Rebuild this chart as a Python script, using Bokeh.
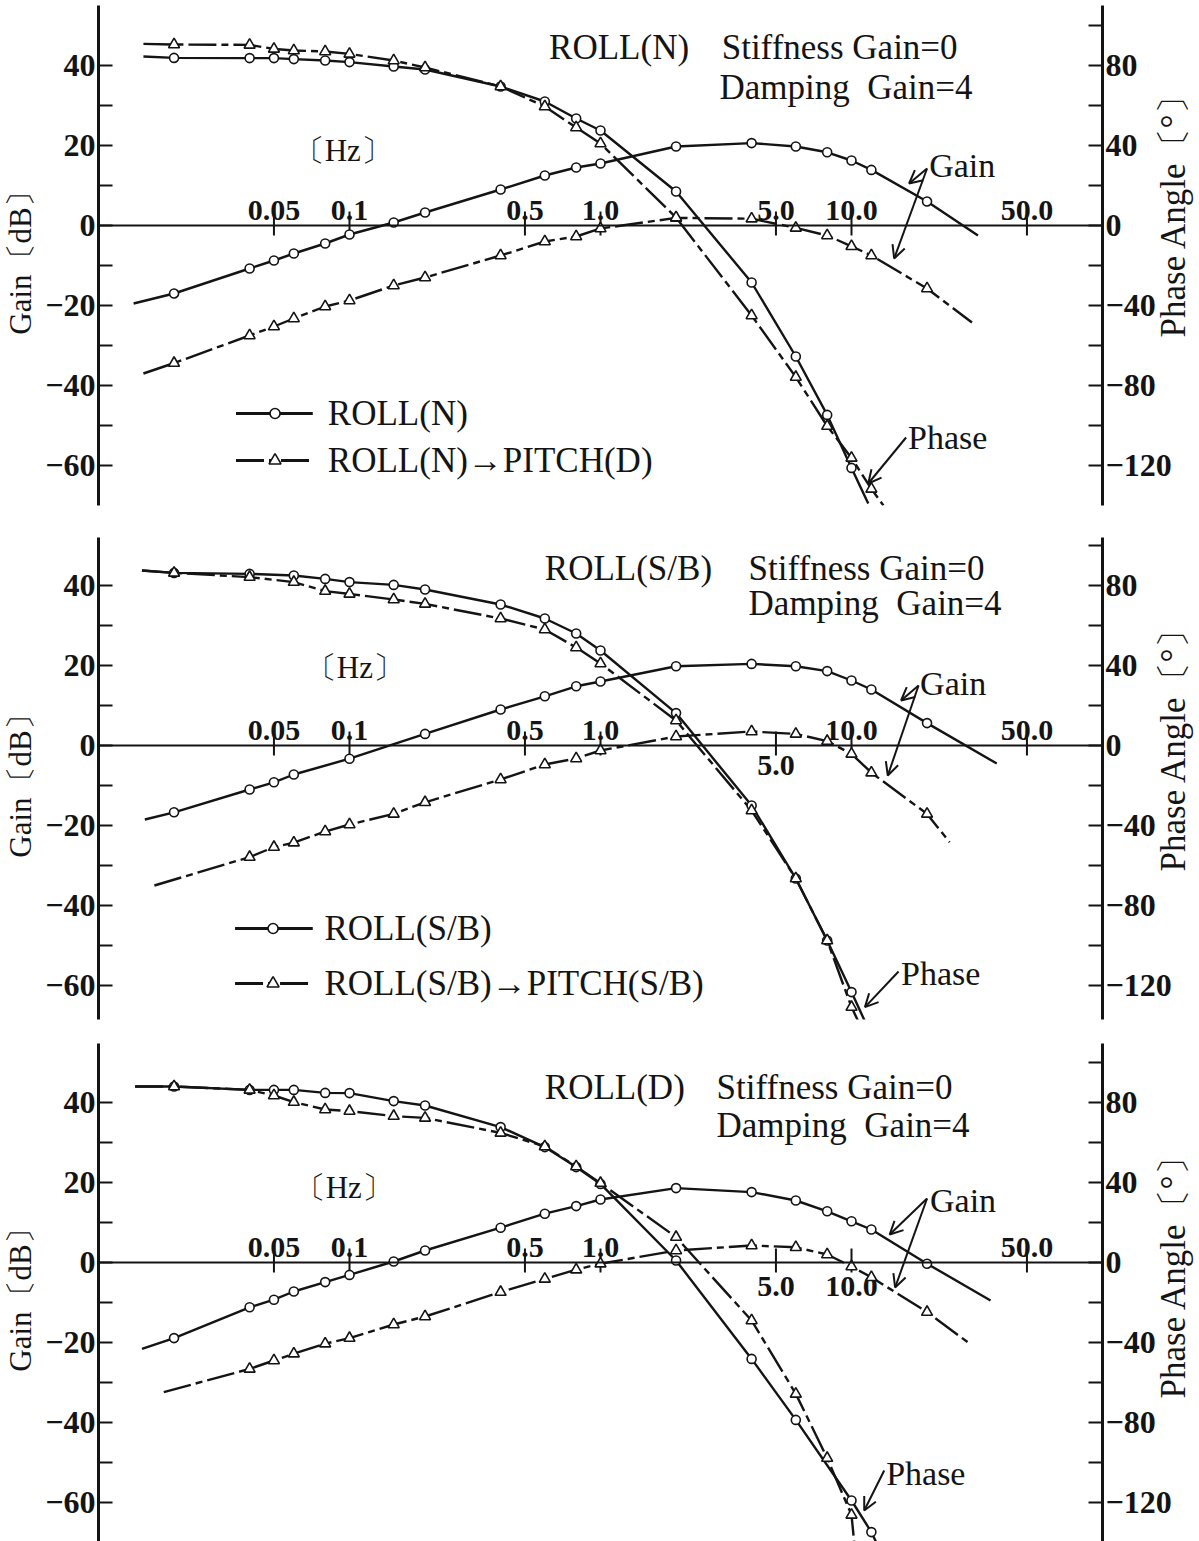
from bokeh.core.properties import value
from bokeh.embed import file_html
from bokeh.layouts import column, row
from bokeh.models import (Arrow, ColumnDataSource, CustomJSTickFormatter,
                          FixedTicker, LinearAxis, OpenHead, Range1d, Span)
from bokeh.plotting import figure
from bokeh.resources import INLINE
import math

# ---------------------------------------------------------------------------
# Axes
# ---------------------------------------------------------------------------
FREQ_TICKS = [0.05, 0.1, 0.5, 1.0, 5.0, 10.0, 50.0]
FREQ_TICK_LABELS = ["0.05", "0.1", "0.5", "1.0", "5.0", "10.0", "50.0"]
GAIN_TICKS = [-60, -40, -20, 0, 20, 40]
GAIN_MINOR_TICKS = [-50, -30, -10, 10, 30]
PHASE_TICKS = [-120, -80, -40, 0, 40, 80]
PHASE_MINOR_TICKS = [-100, -60, -20, 20, 60, 100]

# ---------------------------------------------------------------------------
# Frequency responses.  The first and last entry of every list is where the
# traced curve starts / stops; the entries in between carry a symbol.
# ---------------------------------------------------------------------------

# ROLL(N)  /  ROLL(N) -> PITCH(D)
n_gain_f = [0.0138, 0.02, 0.04, 0.05, 0.06, 0.08, 0.1, 0.15, 0.2, 0.4, 0.6, 0.8,
            1.0, 2.0, 4.0, 6.0, 8.0, 10.0, 12.0, 20.0, 31.9]
n_gain_db = [-19.5, -17.0, -10.75, -8.75, -7.0, -4.5, -2.25, 0.75, 3.25, 9.0, 12.5,
             14.5, 15.5, 19.75, 20.6, 19.75, 18.3, 16.25, 13.9, 6.0, -2.5]
n_phase_f = [0.0151, 0.02, 0.04, 0.05, 0.06, 0.08, 0.1, 0.15, 0.2, 0.4, 0.6, 0.8,
             1.0, 2.0, 4.0, 6.0, 8.0, 10.0, 11.66]
n_phase_deg = [84.5, 83.8, 83.7, 83.7, 83.2, 82.5, 81.7, 79.5, 78.0, 69.5, 62.0,
               53.5, 47.5, 17.0, -28.5, -65.5, -94.7, -121.2, -139.0]
np_gain_f = [0.0151, 0.02, 0.04, 0.05, 0.06, 0.08, 0.1, 0.15, 0.2, 0.4, 0.6, 0.8,
             1.0, 2.0, 4.0, 6.0, 8.0, 10.0, 12.0, 20.0, 30.2]
np_gain_db = [-37.0, -34.4, -27.5, -25.25, -23.25, -20.25, -18.75, -15.0, -13.0,
              -7.5, -4.0, -2.75, -0.75, 1.9, 1.7, -0.6, -2.5, -5.2, -7.5, -15.75,
              -24.25]
np_phase_f = [0.0151, 0.02, 0.04, 0.05, 0.06, 0.08, 0.1, 0.15, 0.2, 0.4, 0.6, 0.8,
              1.0, 2.0, 4.0, 6.0, 8.0, 10.0, 12.0, 13.4]
np_phase_deg = [90.8, 90.5, 90.3, 88.3, 87.5, 87.0, 85.8, 82.5, 79.0, 69.5, 59.5,
                49.0, 41.0, 4.0, -45.0, -75.8, -100.3, -116.2, -131.7, -140.0]

# ROLL(S/B)  /  ROLL(S/B) -> PITCH(S/B)
s_gain_f = [0.0153, 0.02, 0.04, 0.05, 0.06, 0.1, 0.2, 0.4, 0.6, 0.8, 1.0, 2.0,
            4.0, 6.0, 8.0, 10.0, 12.0, 20.0, 37.9]
s_gain_db = [-18.5, -16.7, -11.0, -9.2, -7.25, -3.3, 2.9, 9.0, 12.3, 14.8, 16.0,
             19.8, 20.4, 19.8, 18.6, 16.25, 14.0, 5.6, -4.5]
s_phase_f = [0.0149, 0.02, 0.04, 0.06, 0.08, 0.1, 0.15, 0.2, 0.4, 0.6, 0.8, 1.0,
             2.0, 4.0, 6.0, 8.0, 10.0, 11.27]
s_phase_deg = [87.5, 86.3, 85.8, 85.0, 83.3, 81.7, 80.3, 78.0, 70.5, 63.5, 56.0,
               47.5, 16.2, -30.0, -66.5, -97.5, -123.3, -137.5]
sp_gain_f = [0.0167, 0.04, 0.05, 0.06, 0.08, 0.1, 0.15, 0.2, 0.4, 0.6, 0.8, 1.0,
             2.0, 4.0, 6.0, 8.0, 10.0, 12.0, 20.0, 24.6]
sp_gain_db = [-35.0, -27.9, -25.4, -24.3, -21.5, -19.75, -17.1, -14.2, -8.5, -4.75,
              -3.25, -1.25, 2.25, 3.5, 2.9, 1.1, -2.1, -6.8, -17.1, -24.2]
sp_phase_f = [0.0149, 0.02, 0.04, 0.06, 0.08, 0.1, 0.15, 0.2, 0.4, 0.6, 0.8, 1.0,
              2.0, 4.0, 6.0, 8.0, 10.0, 10.6]
sp_phase_deg = [87.5, 86.3, 84.2, 81.7, 77.2, 75.8, 73.0, 70.8, 63.5, 58.0, 49.0,
                41.0, 12.5, -32.5, -66.5, -97.5, -130.8, -137.5]

# ROLL(D)  /  ROLL(D) -> PITCH(D)
d_gain_f = [0.0149, 0.02, 0.04, 0.05, 0.06, 0.08, 0.1, 0.15, 0.2, 0.4, 0.6, 0.8,
            1.0, 2.0, 4.0, 6.0, 8.0, 10.0, 12.0, 20.0, 35.8]
d_gain_db = [-21.6, -18.9, -11.2, -9.3, -7.25, -4.9, -3.1, 0.25, 3.0, 8.7, 12.2,
             14.1, 15.75, 18.6, 17.6, 15.5, 12.8, 10.3, 8.25, -0.3, -9.5]
d_phase_f = [0.0140, 0.02, 0.04, 0.05, 0.06, 0.08, 0.1, 0.15, 0.2, 0.4, 0.6, 0.8,
             1.0, 2.0, 4.0, 6.0, 10.0, 12.0, 12.54]
d_phase_deg = [88.0, 88.0, 86.3, 86.3, 86.3, 84.8, 84.7, 80.7, 78.5, 67.7, 57.7,
               47.7, 39.3, 1.0, -48.2, -78.7, -119.0, -134.8, -139.9]
dp_gain_f = [0.0182, 0.04, 0.05, 0.06, 0.08, 0.1, 0.15, 0.2, 0.4, 0.6, 0.8, 1.0,
             2.0, 4.0, 6.0, 8.0, 10.0, 12.0, 20.0, 29.0]
dp_gain_db = [-32.4, -26.6, -24.5, -22.8, -20.3, -18.9, -15.5, -13.5, -7.4, -4.1,
              -1.8, -0.3, 3.0, 4.25, 3.8, 2.0, -1.0, -3.7, -12.4, -19.9]
dp_phase_f = [0.0140, 0.02, 0.04, 0.05, 0.06, 0.08, 0.1, 0.15, 0.2, 0.4, 0.6, 0.8,
              1.0, 2.0, 4.0, 6.0, 8.0, 10.0, 10.25]
dp_phase_deg = [88.0, 88.0, 86.3, 83.5, 80.2, 76.5, 75.7, 73.2, 72.3, 64.8, 58.0,
                48.0, 39.7, 12.7, -29.0, -65.7, -97.8, -126.2, -139.9]

# ---------------------------------------------------------------------------
# Styling
# ---------------------------------------------------------------------------
SERIF = "Liberation Serif"
INK = "#141414"
SOLID = "solid"
CHAIN = "28 5 7 5"
CURVE_W = 2.4
FULL_W = 1199
STRIP_W = 44          # narrow strip overlaying the right margin (phase title)


def minus_formatter():
    return CustomJSTickFormatter(
        code="return (tick < 0 ? '\u2212' : '') + Math.abs(tick);")


def style_axis(ax):
    ax.axis_line_width = 3
    ax.axis_line_color = INK
    ax.major_tick_in = 14
    ax.major_tick_out = 0
    ax.minor_tick_in = 14
    ax.minor_tick_out = 0
    ax.major_tick_line_width = 2
    ax.minor_tick_line_width = 2
    ax.major_tick_line_color = INK
    ax.minor_tick_line_color = INK
    ax.major_label_text_font = SERIF
    ax.major_label_text_font_size = "32px"
    ax.major_label_text_font_style = "bold"
    ax.major_label_text_color = INK
    ax.major_label_standoff = 3
    ax.axis_label_text_font = SERIF
    ax.axis_label_text_font_size = "31px"
    ax.axis_label_text_font_style = "normal"
    ax.axis_label_text_color = INK
    ax.axis_label_standoff = 4


def put_text(p, x, y, text, size="35px", align="left", baseline="middle"):
    p.text(x=[x], y=[y], text=[text], text_font=value(SERIF),
           text_font_size=size, text_color=INK, text_align=align,
           text_baseline=baseline)


def arrow(p, x0, y0, x1, y1):
    p.add_layout(Arrow(end=OpenHead(size=13, line_width=2, line_color=INK),
                       x_start=x0, y_start=y0, x_end=x1, y_end=y1,
                       line_width=2, line_color=INK))


def build_panel(spec):
    lo, hi = spec["gain_range"]
    p = figure(width=FULL_W, height=spec["height"], x_axis_type="log",
               x_range=Range1d(0.01, 100.0), y_range=Range1d(lo, hi),
               x_axis_location=None, y_axis_location=None,
               min_border_left=95, min_border_right=97,
               min_border_top=spec["top"], min_border_bottom=spec["bottom"],
               outline_line_color=None, toolbar_location=None,
               background_fill_color="white", border_fill_color="white",
               output_backend="svg")
    p.xgrid.visible = False
    p.ygrid.visible = False
    p.extra_y_ranges = {"phase": Range1d(2 * lo, 2 * hi)}

    gain_axis = LinearAxis(
        ticker=FixedTicker(ticks=GAIN_TICKS, minor_ticks=GAIN_MINOR_TICKS),
        formatter=minus_formatter(), axis_label="Gain〔dB〕")
    style_axis(gain_axis)
    p.add_layout(gain_axis, "left")

    phase_axis = LinearAxis(
        y_range_name="phase",
        ticker=FixedTicker(ticks=PHASE_TICKS, minor_ticks=PHASE_MINOR_TICKS),
        formatter=minus_formatter())
    style_axis(phase_axis)
    p.add_layout(phase_axis, "right")

    # 0 dB line carrying the frequency scale
    p.add_layout(Span(location=0, dimension="width", line_width=2,
                      line_color=INK))
    n = len(FREQ_TICKS)
    p.segment(x0=FREQ_TICKS, y0=[3.5] * n, x1=FREQ_TICKS, y1=[-2.5] * n,
              line_width=2, line_color=INK)
    up = [(f, t) for f, t in zip(FREQ_TICKS, FREQ_TICK_LABELS)
          if t not in spec["below"]]
    dn = [(f, t) for f, t in zip(FREQ_TICKS, FREQ_TICK_LABELS)
          if t in spec["below"]]
    p.text(x=[f for f, _ in up], y=[3.8] * len(up), text=[t for _, t in up],
           text_font=value(SERIF), text_font_size="30px", text_color=INK,
           text_font_style="bold", text_align="center",
           text_baseline="alphabetic")
    if dn:
        p.text(x=[f for f, _ in dn], y=[spec["below_y"]] * len(dn),
               text=[t for _, t in dn], text_font=value(SERIF),
               text_font_size="30px", text_color=INK, text_font_style="bold",
               text_align="center", text_baseline="top")

    # curves: lines first, symbols on top
    marks = []
    for f, v, on_phase, dash, marker in spec["curves"]:
        rng = "phase" if on_phase else "default"
        src = ColumnDataSource(dict(f=f, v=v))
        p.line("f", "v", source=src, y_range_name=rng, line_width=CURVE_W,
               line_color=INK, line_dash=dash, line_join="round")
        marks.append((f[1:-1], v[1:-1], rng, marker))
    for f, v, rng, marker in marks:
        p.scatter(x=f, y=v, y_range_name=rng, marker=marker,
                  size=11 if marker == "triangle" else 9,
                  fill_color="white", line_color=INK, line_width=1.6)

    # heading
    tx, ty = spec["title_at"]
    put_text(p, tx, ty, spec["title"])
    sx, sy = spec["stiff_at"]
    put_text(p, sx, sy, "Stiffness Gain=0")
    dx, dy = spec["damp_at"]
    put_text(p, dx, dy, "Damping\u00a0 Gain=4")
    hx, hy = spec["hz_at"]
    put_text(p, hx, hy, "〔Hz〕", size="31px", align="center")

    # call-outs
    gx, gy = spec["gain_note"]
    put_text(p, gx, gy, "Gain", size="34px")
    for (x0, y0), (x1, y1) in spec["gain_arrows"]:
        arrow(p, x0, y0, x1, y1)
    px_, py_ = spec["phase_note"]
    put_text(p, px_, py_, "Phase", size="34px")
    (x0, y0), (x1, y1) = spec["phase_arrow"]
    arrow(p, x0, y0, x1, y1)

    # key
    if spec.get("legend"):
        lf0, lf1, lfm, lft = spec["legend_x"]
        for (label, dash, marker), gy_ in zip(spec["legend"], spec["legend_y"]):
            p.line(x=[lf0, lf1], y=[gy_, gy_], line_width=2.8, line_color=INK,
                   line_dash=dash)
            p.scatter(x=[lfm], y=[gy_], marker=marker,
                      size=12 if marker == "triangle" else 10,
                      fill_color="white", line_color=INK, line_width=1.6)
            put_text(p, lft, gy_, label, size="35px")

    # phase-axis title: a transparent strip laid over the right margin, so the
    # rotated text can sit beside the tick labels and read bottom-to-top
    q = figure(width=STRIP_W, height=spec["height"],
               x_range=Range1d(0.0, 1.0), y_range=Range1d(lo, hi),
               x_axis_location=None, y_axis_location=None,
               min_border_left=0, min_border_right=0,
               min_border_top=spec["top"], min_border_bottom=spec["bottom"],
               outline_line_color=None, toolbar_location=None,
               background_fill_alpha=0.0, border_fill_alpha=0.0,
               output_backend="svg", margin=(0, 0, 0, -STRIP_W))
    q.xgrid.visible = False
    q.ygrid.visible = False
    q.text(x=[0.4], y=[spec["phase_title_y"]], text=["Phase Angle〔°〕"],
           angle=math.pi / 2, text_font=value(SERIF), text_font_size="35px",
           text_color=INK, text_align="center", text_baseline="middle")
    return row(p, q, spacing=0)


panel_n = dict(
    height=520, top=5, bottom=15, gain_range=(-70.0, 55.0),
    curves=[(n_gain_f, n_gain_db, False, SOLID, "circle"),
            (np_gain_f, np_gain_db, False, CHAIN, "triangle"),
            (n_phase_f, n_phase_deg, True, SOLID, "circle"),
            (np_phase_f, np_phase_deg, True, CHAIN, "triangle")],
    title="ROLL(N)", title_at=(0.624, 44.5), stiff_at=(3.04, 44.5),
    damp_at=(2.98, 34.5), hz_at=(0.094, 18.75),
    gain_note=(20.4, 15.0),
    gain_arrows=[((20.0, 14.25), (16.96, 10.5)), ((20.0, 14.25), (14.79, -8.25))],
    phase_note=(16.8, -53.0), phase_arrow=((16.5, -53.0), (11.66, -64.5)),
    legend=[("ROLL(N)", SOLID, "circle"), ("ROLL(N)→PITCH(D)", CHAIN, "triangle")],
    legend_x=(0.0353, 0.0714, 0.0505, 0.082), legend_y=[-47.0, -58.75],
    below=[], below_y=-2.5, phase_title_y=4.5)

panel_s = dict(
    height=510, top=17, bottom=11, gain_range=(-68.5, 52.0),
    curves=[(s_gain_f, s_gain_db, False, SOLID, "circle"),
            (sp_gain_f, sp_gain_db, False, CHAIN, "triangle"),
            (s_phase_f, s_phase_deg, True, SOLID, "circle"),
            (sp_phase_f, sp_phase_deg, True, CHAIN, "triangle")],
    title="ROLL(S/B)", title_at=(0.60, 44.25), stiff_at=(3.89, 44.25),
    damp_at=(3.89, 35.5), hz_at=(0.105, 19.5),
    gain_note=(18.76, 15.5),
    gain_arrows=[((18.5, 15.0), (15.76, 11.25)), ((18.5, 15.0), (13.95, -7.5))],
    phase_note=(15.76, -57.0), phase_arrow=((15.4, -56.5), (11.31, -65.4)),
    legend=[("ROLL(S/B)", SOLID, "circle"),
            ("ROLL(S/B)→PITCH(S/B)", CHAIN, "triangle")],
    legend_x=(0.035, 0.0714, 0.0496, 0.0795), legend_y=[-45.75, -59.5],
    below=["5.0"], below_y=-2.5, phase_title_y=1.0)

panel_d = dict(
    height=511, top=13, bottom=0, gain_range=(-69.75, 54.75),
    curves=[(d_gain_f, d_gain_db, False, SOLID, "circle"),
            (dp_gain_f, dp_gain_db, False, CHAIN, "triangle"),
            (d_phase_f, d_phase_deg, True, SOLID, "circle"),
            (dp_phase_f, dp_phase_deg, True, CHAIN, "triangle")],
    title="ROLL(D)", title_at=(0.60, 43.75), stiff_at=(2.90, 43.75),
    damp_at=(2.90, 34.25), hz_at=(0.0949, 18.75),
    gain_note=(20.55, 15.5),
    gain_arrows=[((20.0, 16.0), (14.19, 7.0)), ((20.0, 16.0), (14.92, -6.25))],
    phase_note=(13.74, -52.75), phase_arrow=((13.5, -52.0), (11.24, -62.0)),
    legend=None,
    below=["5.0", "10.0"], below_y=-3.5, phase_title_y=-1.5)

layout = column(build_panel(panel_n), build_panel(panel_s), build_panel(panel_d),
                spacing=0)

with open("out.html", "w") as fh:
    fh.write(file_html(layout, INLINE))
